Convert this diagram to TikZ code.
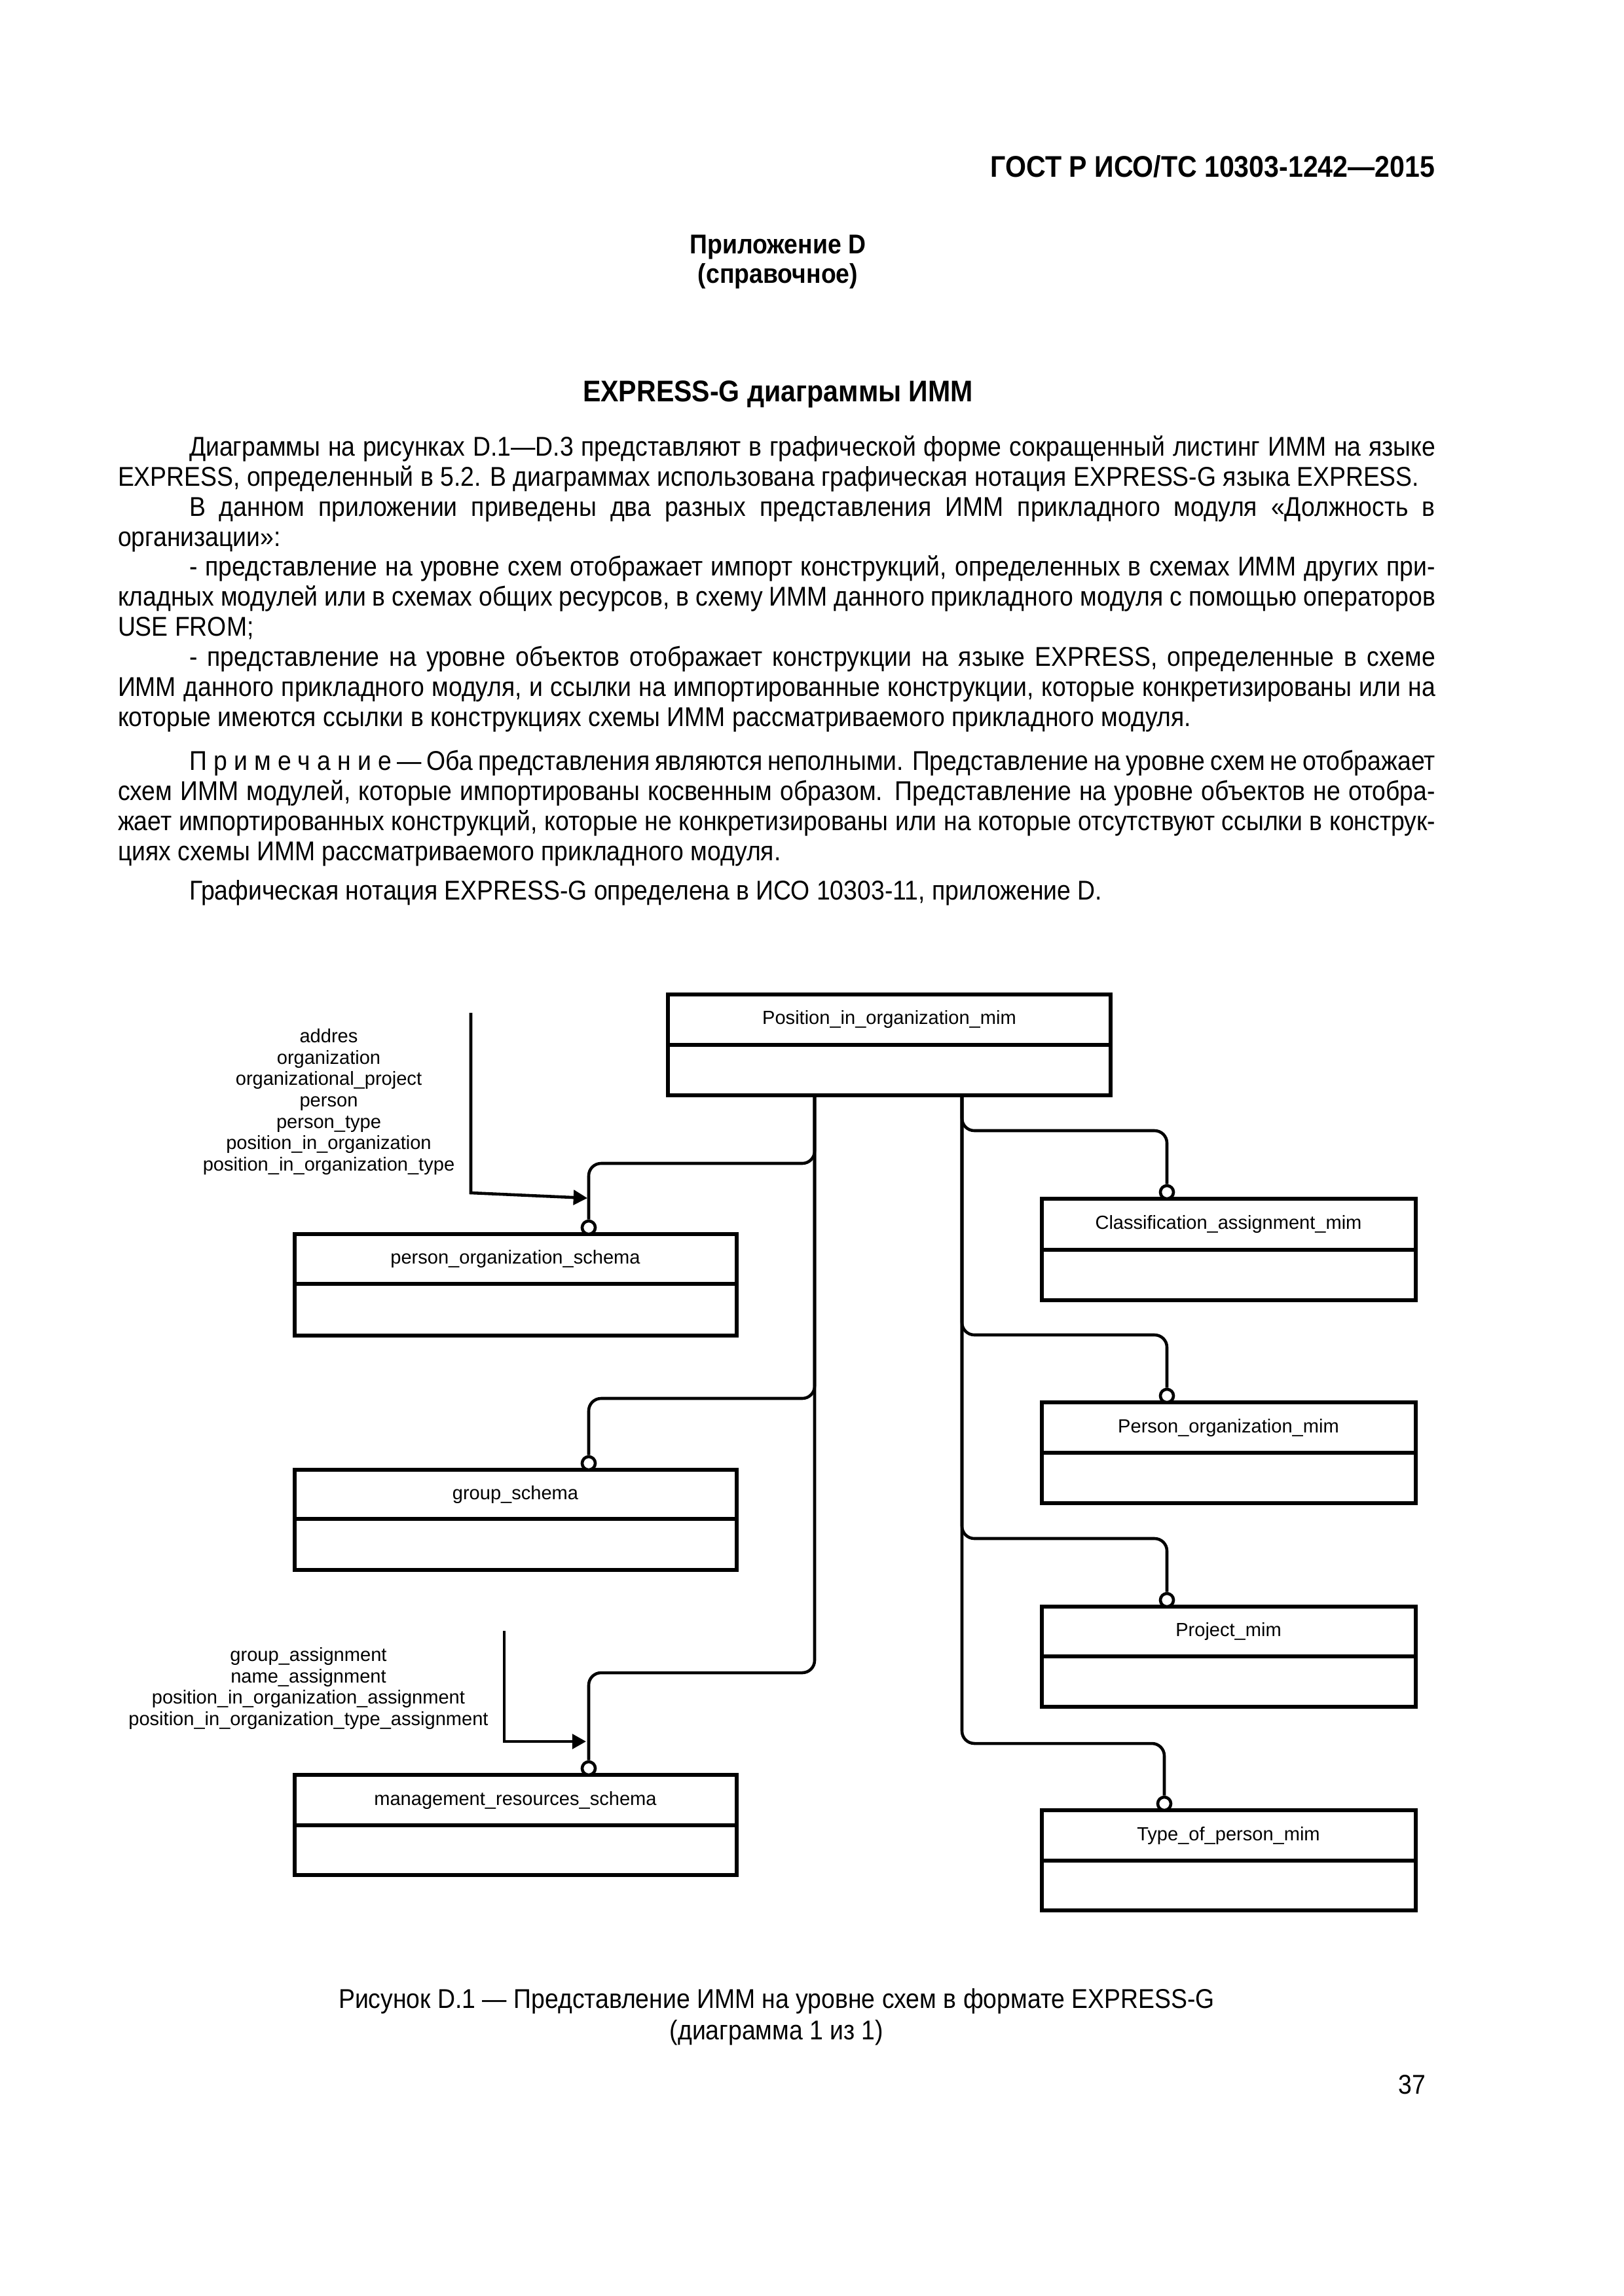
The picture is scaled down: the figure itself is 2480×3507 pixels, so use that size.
\documentclass[tikz,border=0pt]{standalone}
\usepackage{fontspec}
\setmainfont{Liberation Sans}[FakeStretch=0.9]
\newfontfamily\diafont{Liberation Sans}
\usetikzlibrary{arrows.meta,fit}
\newlength\pxu
\setlength\pxu{0.0846774mm}
\tikzset{
  body/.style={anchor=base west, inner sep=0, outer sep=0, font=\fontsize{10}{12}\selectfont},
  ctr/.style={anchor=base, inner sep=0, outer sep=0, font=\fontsize{10}{12}\selectfont},
  bctr/.style={anchor=base, inner sep=0, outer sep=0, font=\bfseries\fontsize{10}{12}\selectfont},
  ent/.style={draw, line width=1.3pt, inner sep=0, outer sep=0},
  divl/.style={line width=1.3pt},
  etxt/.style={font=\diafont\fontsize{7}{8}\selectfont, inner sep=0, anchor=center},
  conn/.style={line width=1.1pt, rounded corners=1.6mm},
  circ/.style={circle, draw, fill=white, line width=1.1pt, minimum size=1.7mm, inner sep=0},
  lbl/.style={font=\diafont\fontsize{7}{7.85}\selectfont, align=center, inner sep=0},
  imp/.style={line width=1.1pt, -{Triangle[length=1.8mm,width=1.9mm]}},
}
\begin{document}
\begin{tikzpicture}[x=0.0846774mm, y=-0.0846774mm]
\fill[white] (0,0) rectangle (2480,3507);
\useasboundingbox (0,0) rectangle (2480,3507);

% header and titles
\node[anchor=base east, inner sep=0, font=\bfseries\fontsize{11}{13}\selectfont] (hdr) at (2192,270) {ГОСТ Р ИСО/ТС 10303-1242—2015};
\node[bctr] (app) at (1188,387) {Приложение D};
\node[bctr] (sprav) at (1188,432) {(справочное)};
\node[bctr, font=\bfseries\fontsize{11}{13}\selectfont] (ttl) at (1188,613) {EXPRESS-G диаграммы ИММ};

% body text
\node[body] (p1a) at (289,696) {\hbox to 1903\pxu{Диаграммы на рисунках D.1—D.3 представляют в графической форме сокращенный листинг ИММ на языке}};
\node[body] (p1b) at (180,742) {EXPRESS, определенный в 5.2. В диаграммах использована графическая нотация EXPRESS-G языка EXPRESS.};
\node[body] (p2a) at (289,788) {\hbox to 1903\pxu{В данном приложении приведены два разных представления ИММ прикладного модуля «Должность в}};
\node[body] (p2b) at (180,834) {организации»:};
\node[body] (p3a) at (289,879) {\hbox to 1903\pxu{- представление на уровне схем отображает импорт конструкций, определенных в схемах ИММ других при-}};
\node[body] (p3b) at (180,925) {\hbox to 2012\pxu{кладных модулей или в схемах общих ресурсов, в схему ИММ данного прикладного модуля с помощью операторов}};
\node[body] (p3c) at (180,971) {USE FROM;};
\node[body] (p4a) at (289,1017) {\hbox to 1903\pxu{- представление на уровне объектов отображает конструкции на языке EXPRESS, определенные в схеме}};
\node[body] (p4b) at (180,1063) {\hbox to 2012\pxu{ИММ данного прикладного модуля, и ссылки на импортированные конструкции, которые конкретизированы или на}};
\node[body] (p4c) at (180,1109) {которые имеются ссылки в конструкциях схемы ИММ рассматриваемого прикладного модуля.};
\node[body] (n1) at (289,1176) {\hbox to 1903\pxu{{\addfontfeature{LetterSpace=25}Примечание} — Оба представления являются неполными. Представление на уровне схем не отображает}};
\node[body] (n2) at (180,1222) {\hbox to 2012\pxu{схем ИММ модулей, которые импортированы косвенным образом. Представление на уровне объектов не отобра-}};
\node[body] (n3) at (180,1268) {\hbox to 2012\pxu{жает импортированных конструкций, которые не конкретизированы или на которые отсутствуют ссылки в конструк-}};
\node[body] (n4) at (180,1314) {циях схемы ИММ рассматриваемого прикладного модуля.};
\node[body] (g1) at (289,1374) {Графическая нотация EXPRESS-G определена в ИСО 10303-11, приложение D.};

% entity boxes
\node[ent, fit={(1020,1519) (1696,1673)}] (pim) {};
\draw[divl] (1020,1596) -- (1696,1596);
\node[etxt] (pim-t) at (1358,1557) {Position\_in\_organization\_mim};

\node[ent, fit={(450,1885) (1125,2040)}] (pos) {};
\draw[divl] (450,1961) -- (1125,1961);
\node[etxt] (pos-t) at (787,1923) {person\_organization\_schema};

\node[ent, fit={(450,2245) (1125,2398)}] (grp) {};
\draw[divl] (450,2320) -- (1125,2320);
\node[etxt] (grp-t) at (787,2283) {group\_schema};

\node[ent, fit={(450,2711) (1125,2864)}] (mgt) {};
\draw[divl] (450,2788) -- (1125,2788);
\node[etxt] (mgt-t) at (787,2750) {management\_resources\_schema};

\node[ent, fit={(1591,1831) (2162,1986)}] (cls) {};
\draw[divl] (1591,1909) -- (2162,1909);
\node[etxt] (cls-t) at (1876,1870) {Classification\_assignment\_mim};

\node[ent, fit={(1591,2142) (2162,2296)}] (pom) {};
\draw[divl] (1591,2219) -- (2162,2219);
\node[etxt] (pom-t) at (1876,2181) {Person\_organization\_mim};

\node[ent, fit={(1591,2454) (2162,2607)}] (prj) {};
\draw[divl] (1591,2530) -- (2162,2530);
\node[etxt] (prj-t) at (1876,2492) {Project\_mim};

\node[ent, fit={(1591,2765) (2162,2918)}] (top) {};
\draw[divl] (1591,2842) -- (2162,2842);
\node[etxt] (top-t) at (1876,2804) {Type\_of\_person\_mim};

% circles
\node[circ] (cpos) at (899,1875) {};
\node[circ] (cgrp) at (899,2235) {};
\node[circ] (cmgt) at (899,2701) {};
\node[circ] (ccls) at (1782,1821) {};
\node[circ] (cpom) at (1782,2132) {};
\node[circ] (cprj) at (1782,2444) {};
\node[circ] (ctop) at (1778,2755) {};

% connectors
\coordinate (pimL) at (1244,1673);
\coordinate (pimR) at (1469,1673);
\draw[conn] (pimL) -- (1244,1777) -- (899,1777) -- (cpos.north);
\draw[conn] (pimL) -- (1244,2136) -- (899,2136) -- (cgrp.north);
\draw[conn] (pimL) -- (1244,2555) -- (899,2555) -- (cmgt.north);
\draw[conn] (pimR) -- (1469,1727) -- (1782,1727) -- (ccls.north);
\draw[conn] (pimR) -- (1469,2039) -- (1782,2039) -- (cpom.north);
\draw[conn] (pimR) -- (1469,2350) -- (1782,2350) -- (cprj.north);
\draw[conn] (pimR) -- (1469,2663) -- (1778,2663) -- (ctop.north);

% imports
\coordinate (i1s) at (719,1547);
\coordinate (i1b) at (719,1822);
\coordinate (i1e) at (897,1830);
\draw[imp] (i1s) -- (i1b) -- (i1e);
\coordinate (i2s) at (770,2491);
\coordinate (i2b) at (770,2660);
\coordinate (i2e) at (895,2660);
\draw[imp] (i2s) -- (i2b) -- (i2e);

\node[lbl] (lab1) at (502,1683) {addres\\organization\\organizational\_project\\person\\person\_type\\position\_in\_organization\\position\_in\_organization\_type};
\node[lbl] (lab2) at (471,2579) {group\_assignment\\name\_assignment\\position\_in\_organization\_assignment\\position\_in\_organization\_type\_assignment};

% caption
\node[ctr] (cap1) at (1186,3067) {Рисунок D.1 — Представление ИММ на уровне схем в формате EXPRESS-G};
\node[ctr] (cap2) at (1186,3115) {(диаграмма 1 из 1)};
\node[anchor=base east, inner sep=0, font=\fontsize{10}{12}\selectfont] (pgn) at (2178,3198) {37};
\end{tikzpicture}
\end{document}
